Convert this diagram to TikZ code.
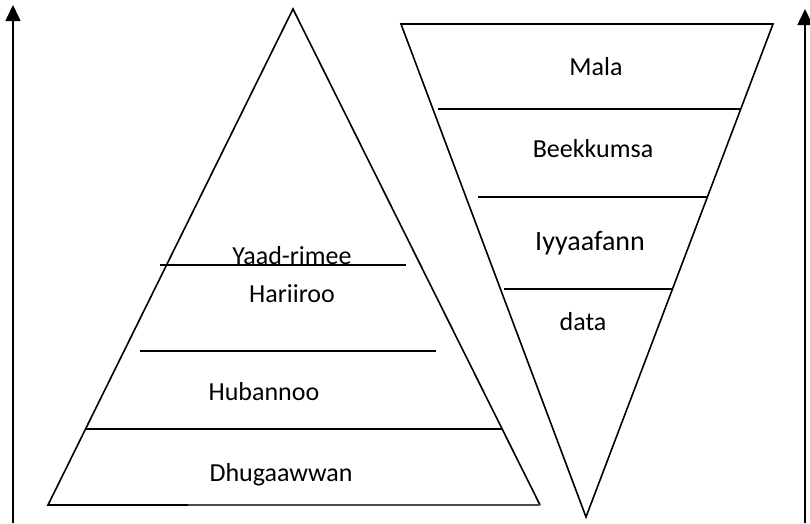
\documentclass[tikz,border=0pt]{standalone}
\usepackage{fontspec}
\setmainfont{Carlito}
\usetikzlibrary{arrows.meta}
\begin{document}
\begin{tikzpicture}[x=1pt,y=-1pt,
  edge/.style={line width=1.6pt,line join=miter},
  level/.style={line width=1.6pt},
  lbl/.style={anchor=base,inner sep=0pt,font=\fontsize{26}{30}\selectfont},
  biglbl/.style={anchor=base,inner sep=0pt,font=\fontsize{28}{32}\selectfont},
  axis/.style={line width=1.6pt,-{Triangle[width=15pt,length=16pt]}}]
\useasboundingbox (0,0) rectangle (810,523);
% coordinates
\coordinate (LA0) at (13,523);
\coordinate (LA1) at (13,5);
\coordinate (RA0) at (805,523);
\coordinate (RA1) at (805,9);
\coordinate (TL) at (48,505);
\coordinate (TA) at (293,9);
\coordinate (TR) at (540,505);
\coordinate (TM) at (188,505);
\coordinate (IL) at (401,24);
\coordinate (IR) at (773,24);
\coordinate (IA) at (586,517);
% arrows
\draw[axis] (LA0) -- (LA1);
\draw[axis] (RA0) -- (RA1);
% pyramid
\draw[edge] (TM) -- (TL) -- (TA) -- (TR);
\draw[line width=1.1pt,black!70] (TM) -- (TR);
\coordinate (p1a) at (160,265); \coordinate (p1b) at (406,265);
\coordinate (p2a) at (140,351); \coordinate (p2b) at (436,351);
\coordinate (p3a) at (85.5,429); \coordinate (p3b) at (502,429);
\draw[level] (p1a) -- (p1b);
\draw[level] (p2a) -- (p2b);
\draw[level] (p3a) -- (p3b);
\node[lbl] (yaad) at (292,264) {Yaad-rimee};
\node[lbl] (har) at (292,302) {Hariiroo};
\node[lbl] (hub) at (264,400) {Hubannoo};
\node[lbl] (dhu) at (281,481) {Dhugaawwan};
% inverted pyramid
\draw[edge] (IL) -- (IR) -- (IA) -- cycle;
\coordinate (q1a) at (438,109); \coordinate (q1b) at (741,109);
\coordinate (q2a) at (478,197); \coordinate (q2b) at (708,197);
\coordinate (q3a) at (504,289); \coordinate (q3b) at (673,289);
\draw[level] (q1a) -- (q1b);
\draw[level] (q2a) -- (q2b);
\draw[level] (q3a) -- (q3b);
\node[lbl] (mala) at (596,75) {Mala};
\node[lbl] (bee) at (593,157) {Beekkumsa};
\node[biglbl] (iyy) at (590,250) {Iyyaafann};
\node[lbl] (dat) at (583,330) {data};
\end{tikzpicture}
\end{document}
